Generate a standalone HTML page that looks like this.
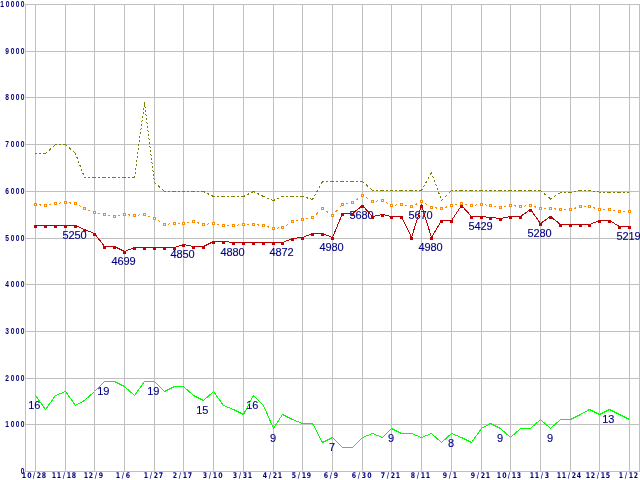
<!DOCTYPE html>
<html lang="en">
<head>
<meta charset="utf-8">
<title>Chart</title>
<style>
html,body{margin:0;padding:0;background:#fff;}
body{width:640px;height:480px;overflow:hidden;}
svg{display:block;}
.ax{font-family:"Liberation Sans",Arial,sans-serif;font-weight:bold;font-size:8.3px;fill:#000080;text-anchor:middle;}
.dt{font-family:"DejaVu Sans","Liberation Sans",sans-serif;font-size:7.8px;}
.lb{font-family:"Liberation Sans",Arial,sans-serif;font-size:11px;fill:#000080;stroke:#000080;stroke-width:0.12px;}
</style>
</head>
<body>
<svg width="640" height="480" viewBox="0 0 640 480">
<rect x="0" y="0" width="640" height="480" fill="#ffffff"/>
<g fill="#c0c0c0" shape-rendering="crispEdges">
<rect x="25" y="4" width="615" height="1"/>
<rect x="25" y="51" width="615" height="1"/>
<rect x="25" y="97" width="615" height="1"/>
<rect x="25" y="144" width="615" height="1"/>
<rect x="25" y="191" width="615" height="1"/>
<rect x="25" y="238" width="615" height="1"/>
<rect x="25" y="284" width="615" height="1"/>
<rect x="25" y="331" width="615" height="1"/>
<rect x="25" y="378" width="615" height="1"/>
<rect x="25" y="424" width="615" height="1"/>
<rect x="25" y="471" width="615" height="1"/>
<rect x="25" y="4" width="1" height="468"/>
<rect x="639" y="4" width="1" height="468"/>
<rect x="35" y="4" width="1" height="468"/>
<rect x="65" y="4" width="1" height="468"/>
<rect x="94" y="4" width="1" height="468"/>
<rect x="124" y="4" width="1" height="468"/>
<rect x="154" y="4" width="1" height="468"/>
<rect x="183" y="4" width="1" height="468"/>
<rect x="213" y="4" width="1" height="468"/>
<rect x="243" y="4" width="1" height="468"/>
<rect x="273" y="4" width="1" height="468"/>
<rect x="302" y="4" width="1" height="468"/>
<rect x="332" y="4" width="1" height="468"/>
<rect x="362" y="4" width="1" height="468"/>
<rect x="391" y="4" width="1" height="468"/>
<rect x="421" y="4" width="1" height="468"/>
<rect x="451" y="4" width="1" height="468"/>
<rect x="481" y="4" width="1" height="468"/>
<rect x="510" y="4" width="1" height="468"/>
<rect x="540" y="4" width="1" height="468"/>
<rect x="570" y="4" width="1" height="468"/>
<rect x="599" y="4" width="1" height="468"/>
<rect x="629" y="4" width="1" height="468"/>
</g>
<g class="lb">
<text x="62.5 68.5 74.5 80.5" y="238.75">5250</text>
<text x="111.5 117.5 123.5 129.5" y="264.75">4699</text>
<text x="170.5 176.5 182.5 188.5" y="257.75">4850</text>
<text x="220.5 226.5 232.5 238.5" y="255.75">4880</text>
<text x="269.5 275.5 281.5 287.5" y="255.75">4872</text>
<text x="319.5 325.5 331.5 337.5" y="250.75">4980</text>
<text x="349.5 355.5 361.5 367.5" y="218.75">5680</text>
<text x="408.5 414.5 420.5 426.5" y="218.75">5670</text>
<text x="418.5 424.5 430.5 436.5" y="250.75">4980</text>
<text x="468.5 474.5 480.5 486.5" y="229.75">5429</text>
<text x="527.5 533.5 539.5 545.5" y="236.75">5280</text>
<text x="616.5 622.5 628.5 634.5" y="239.75">5219</text>
<text x="28.2 34.2" y="408.75">16</text>
<text x="97.2 103.2" y="394.75">19</text>
<text x="147.2 153.2" y="394.75">19</text>
<text x="196.2 202.2" y="413.75">15</text>
<text x="246.2 252.2" y="408.75">16</text>
<text x="269.9" y="441.75">9</text>
<text x="328.9" y="450.75">7</text>
<text x="387.9" y="441.75">9</text>
<text x="447.9" y="446.75">8</text>
<text x="496.9" y="441.75">9</text>
<text x="546.9" y="441.75">9</text>
<text x="602.2 608.2" y="422.75">13</text>
</g>
<g fill="none" stroke="#808000" stroke-width="1" shape-rendering="crispEdges">
<path d="M35.00 153.50L45.00 153.50" stroke-dasharray="2.20 1.80" stroke-dashoffset="0.00"/>
<path d="M45.00 153.95L55.00 144.95" stroke-dasharray="2.96 2.42" stroke-dashoffset="0.00"/>
<path d="M55.00 144.50L65.00 144.50" stroke-dasharray="2.20 1.80" stroke-dashoffset="0.00"/>
<path d="M65.00 144.05L75.00 153.05" stroke-dasharray="2.96 2.42" stroke-dashoffset="0.00"/>
<path d="M75.31 153.00L84.31 177.00" stroke-dasharray="2.35 1.92" stroke-dashoffset="0.00"/>
<path d="M84.00 177.50L94.00 177.50" stroke-dasharray="2.20 1.80" stroke-dashoffset="0.00"/>
<path d="M94.00 177.50L104.00 177.50" stroke-dasharray="2.20 1.80" stroke-dashoffset="0.00"/>
<path d="M104.00 177.50L114.00 177.50" stroke-dasharray="2.20 1.80" stroke-dashoffset="0.00"/>
<path d="M114.00 177.50L124.00 177.50" stroke-dasharray="2.20 1.80" stroke-dashoffset="0.00"/>
<path d="M124.00 177.50L134.00 177.50" stroke-dasharray="2.20 1.80" stroke-dashoffset="0.00"/>
<path d="M134.43 178.00L144.43 103.00" stroke-dasharray="2.22 1.82" stroke-dashoffset="0.00"/>
<path d="M144.44 102.00L154.44 182.00" stroke-dasharray="2.22 1.81" stroke-dashoffset="0.00"/>
<path d="M154.00 182.05L164.00 191.05" stroke-dasharray="2.96 2.42" stroke-dashoffset="0.00"/>
<path d="M164.00 191.50L174.00 191.50" stroke-dasharray="2.20 1.80" stroke-dashoffset="0.00"/>
<path d="M174.00 191.50L183.00 191.50" stroke-dasharray="2.20 1.80" stroke-dashoffset="0.00"/>
<path d="M183.00 191.50L193.00 191.50" stroke-dasharray="2.20 1.80" stroke-dashoffset="0.00"/>
<path d="M193.00 191.50L203.00 191.50" stroke-dasharray="2.20 1.80" stroke-dashoffset="0.00"/>
<path d="M203.00 191.25L213.00 196.25" stroke-dasharray="2.46 2.01" stroke-dashoffset="0.00"/>
<path d="M213.00 196.50L223.00 196.50" stroke-dasharray="2.20 1.80" stroke-dashoffset="0.00"/>
<path d="M223.00 196.50L233.00 196.50" stroke-dasharray="2.20 1.80" stroke-dashoffset="0.00"/>
<path d="M233.00 196.50L243.00 196.50" stroke-dasharray="2.20 1.80" stroke-dashoffset="0.00"/>
<path d="M243.00 196.75L253.00 191.75" stroke-dasharray="2.46 2.01" stroke-dashoffset="0.00"/>
<path d="M253.00 191.25L263.00 196.25" stroke-dasharray="2.46 2.01" stroke-dashoffset="0.00"/>
<path d="M263.00 196.30L273.00 200.30" stroke-dasharray="2.37 1.94" stroke-dashoffset="0.00"/>
<path d="M273.00 200.72L282.00 196.72" stroke-dasharray="2.41 1.97" stroke-dashoffset="0.00"/>
<path d="M282.00 196.50L292.00 196.50" stroke-dasharray="2.20 1.80" stroke-dashoffset="0.00"/>
<path d="M292.00 196.50L302.00 196.50" stroke-dasharray="2.20 1.80" stroke-dashoffset="0.00"/>
<path d="M302.00 196.35L312.00 199.35" stroke-dasharray="2.30 1.88" stroke-dashoffset="0.00"/>
<path d="M312.22 200.00L322.22 182.00" stroke-dasharray="2.52 2.06" stroke-dashoffset="0.00"/>
<path d="M322.00 181.50L332.00 181.50" stroke-dasharray="2.20 1.80" stroke-dashoffset="0.00"/>
<path d="M332.00 181.50L342.00 181.50" stroke-dasharray="2.20 1.80" stroke-dashoffset="0.00"/>
<path d="M342.00 181.50L352.00 181.50" stroke-dasharray="2.20 1.80" stroke-dashoffset="0.00"/>
<path d="M352.00 181.50L362.00 181.50" stroke-dasharray="2.20 1.80" stroke-dashoffset="0.00"/>
<path d="M362.00 181.05L372.00 190.05" stroke-dasharray="2.96 2.42" stroke-dashoffset="0.00"/>
<path d="M372.00 190.50L382.00 190.50" stroke-dasharray="2.20 1.80" stroke-dashoffset="0.00"/>
<path d="M382.00 190.50L391.00 190.50" stroke-dasharray="2.20 1.80" stroke-dashoffset="0.00"/>
<path d="M391.00 190.50L401.00 190.50" stroke-dasharray="2.20 1.80" stroke-dashoffset="0.00"/>
<path d="M401.00 190.50L411.00 190.50" stroke-dasharray="2.20 1.80" stroke-dashoffset="0.00"/>
<path d="M411.00 190.50L421.00 190.50" stroke-dasharray="2.20 1.80" stroke-dashoffset="0.00"/>
<path d="M421.22 191.00L431.22 173.00" stroke-dasharray="2.52 2.06" stroke-dashoffset="0.00"/>
<path d="M431.32 172.00L441.32 200.00" stroke-dasharray="2.34 1.91" stroke-dashoffset="0.00"/>
<path d="M441.00 201.00L451.00 191.00" stroke-dasharray="3.11 2.55" stroke-dashoffset="0.00"/>
<path d="M451.00 190.50L461.00 190.50" stroke-dasharray="2.20 1.80" stroke-dashoffset="0.00"/>
<path d="M461.00 190.50L471.00 190.50" stroke-dasharray="2.20 1.80" stroke-dashoffset="0.00"/>
<path d="M471.00 190.50L481.00 190.50" stroke-dasharray="2.20 1.80" stroke-dashoffset="0.00"/>
<path d="M481.00 190.50L490.00 190.50" stroke-dasharray="2.20 1.80" stroke-dashoffset="0.00"/>
<path d="M490.00 190.50L500.00 190.50" stroke-dasharray="2.20 1.80" stroke-dashoffset="0.00"/>
<path d="M500.00 190.50L510.00 190.50" stroke-dasharray="2.20 1.80" stroke-dashoffset="0.00"/>
<path d="M510.00 190.50L520.00 190.50" stroke-dasharray="2.20 1.80" stroke-dashoffset="0.00"/>
<path d="M520.00 190.50L530.00 190.50" stroke-dasharray="2.20 1.80" stroke-dashoffset="0.00"/>
<path d="M530.00 190.50L540.00 190.50" stroke-dasharray="2.20 1.80" stroke-dashoffset="0.00"/>
<path d="M540.00 190.07L550.00 198.57" stroke-dasharray="2.89 2.36" stroke-dashoffset="0.00"/>
<path d="M550.00 199.32L560.00 192.82" stroke-dasharray="2.62 2.15" stroke-dashoffset="0.00"/>
<path d="M560.00 192.50L570.00 192.50" stroke-dasharray="2.20 1.80" stroke-dashoffset="0.00"/>
<path d="M570.00 192.60L580.00 190.60" stroke-dasharray="2.24 1.84" stroke-dashoffset="0.00"/>
<path d="M580.00 190.50L589.00 190.50" stroke-dasharray="2.20 1.80" stroke-dashoffset="0.00"/>
<path d="M589.00 190.43L599.00 191.93" stroke-dasharray="2.22 1.82" stroke-dashoffset="0.00"/>
<path d="M599.00 192.00L609.00 192.00" stroke-dasharray="2.20 1.80" stroke-dashoffset="0.00"/>
<path d="M609.00 192.00L619.00 192.00" stroke-dasharray="2.20 1.80" stroke-dashoffset="0.00"/>
<path d="M619.00 192.00L629.00 192.00" stroke-dasharray="2.20 1.80" stroke-dashoffset="0.00"/>
</g>
<g fill="none" stroke="#ff8c00" stroke-width="1" shape-rendering="crispEdges">
<path d="M35.00 204.45L45.00 205.45" stroke-dasharray="2.01 3.01" stroke-dashoffset="1.00"/>
<path d="M45.00 205.60L55.00 203.60" stroke-dasharray="2.04 3.06" stroke-dashoffset="1.02"/>
<path d="M55.00 203.55L65.00 202.55" stroke-dasharray="2.01 3.01" stroke-dashoffset="1.00"/>
<path d="M65.00 202.45L75.00 203.45" stroke-dasharray="2.01 3.01" stroke-dashoffset="1.00"/>
<path d="M75.00 203.22L84.00 208.22" stroke-dasharray="2.29 3.43" stroke-dashoffset="1.14"/>
<path d="M84.00 208.30L94.00 212.30" stroke-dasharray="2.15 3.23" stroke-dashoffset="1.08"/>
<path d="M94.00 212.40L104.00 214.40" stroke-dasharray="2.04 3.06" stroke-dashoffset="1.02"/>
<path d="M104.00 214.40L114.00 216.40" stroke-dasharray="2.04 3.06" stroke-dashoffset="1.02"/>
<path d="M114.00 216.60L124.00 214.60" stroke-dasharray="2.04 3.06" stroke-dashoffset="1.02"/>
<path d="M124.00 214.45L134.00 215.45" stroke-dasharray="2.01 3.01" stroke-dashoffset="1.00"/>
<path d="M134.00 215.55L144.00 214.55" stroke-dasharray="2.01 3.01" stroke-dashoffset="1.00"/>
<path d="M144.00 214.30L154.00 218.30" stroke-dasharray="2.15 3.23" stroke-dashoffset="1.08"/>
<path d="M154.00 218.20L164.00 224.20" stroke-dasharray="2.33 3.50" stroke-dashoffset="1.17"/>
<path d="M164.00 224.55L174.00 223.55" stroke-dasharray="2.01 3.01" stroke-dashoffset="1.00"/>
<path d="M174.00 223.50L183.00 223.50" stroke-dasharray="2.00 3.00" stroke-dashoffset="1.00"/>
<path d="M183.00 223.60L193.00 221.60" stroke-dasharray="2.04 3.06" stroke-dashoffset="1.02"/>
<path d="M193.00 221.35L203.00 224.35" stroke-dasharray="2.09 3.13" stroke-dashoffset="1.04"/>
<path d="M203.00 224.55L213.00 223.55" stroke-dasharray="2.01 3.01" stroke-dashoffset="1.00"/>
<path d="M213.00 223.40L223.00 225.40" stroke-dasharray="2.04 3.06" stroke-dashoffset="1.02"/>
<path d="M223.00 225.50L233.00 225.50" stroke-dasharray="2.00 3.00" stroke-dashoffset="1.00"/>
<path d="M233.00 225.55L243.00 224.55" stroke-dasharray="2.01 3.01" stroke-dashoffset="1.00"/>
<path d="M243.00 224.50L253.00 224.50" stroke-dasharray="2.00 3.00" stroke-dashoffset="1.00"/>
<path d="M253.00 224.45L263.00 225.45" stroke-dasharray="2.01 3.01" stroke-dashoffset="1.00"/>
<path d="M263.00 225.35L273.00 228.35" stroke-dasharray="2.09 3.13" stroke-dashoffset="1.04"/>
<path d="M273.00 228.56L282.00 227.56" stroke-dasharray="2.01 3.02" stroke-dashoffset="1.01"/>
<path d="M282.00 227.80L292.00 221.80" stroke-dasharray="2.33 3.50" stroke-dashoffset="1.17"/>
<path d="M292.00 221.60L302.00 219.60" stroke-dasharray="2.04 3.06" stroke-dashoffset="1.02"/>
<path d="M302.00 219.60L312.00 217.60" stroke-dasharray="2.04 3.06" stroke-dashoffset="1.02"/>
<path d="M312.00 217.95L322.00 208.95" stroke-dasharray="2.69 4.04" stroke-dashoffset="1.35"/>
<path d="M322.00 208.15L332.00 215.15" stroke-dasharray="2.44 3.66" stroke-dashoffset="1.22"/>
<path d="M332.05 216.00L342.05 205.00" stroke-dasharray="2.70 4.05" stroke-dashoffset="1.35"/>
<path d="M342.00 204.60L352.00 202.60" stroke-dasharray="2.04 3.06" stroke-dashoffset="1.02"/>
<path d="M352.00 202.85L362.00 195.85" stroke-dasharray="2.44 3.66" stroke-dashoffset="1.22"/>
<path d="M362.00 195.20L372.00 201.20" stroke-dasharray="2.33 3.50" stroke-dashoffset="1.17"/>
<path d="M372.00 201.55L382.00 200.55" stroke-dasharray="2.01 3.01" stroke-dashoffset="1.00"/>
<path d="M382.00 200.22L391.00 205.22" stroke-dasharray="2.29 3.43" stroke-dashoffset="1.14"/>
<path d="M391.00 205.55L401.00 204.55" stroke-dasharray="2.01 3.01" stroke-dashoffset="1.00"/>
<path d="M401.00 204.40L411.00 206.40" stroke-dasharray="2.04 3.06" stroke-dashoffset="1.02"/>
<path d="M411.00 206.75L421.00 201.75" stroke-dasharray="2.24 3.35" stroke-dashoffset="1.12"/>
<path d="M421.00 201.20L431.00 207.20" stroke-dasharray="2.33 3.50" stroke-dashoffset="1.17"/>
<path d="M431.00 207.45L441.00 208.45" stroke-dasharray="2.01 3.01" stroke-dashoffset="1.00"/>
<path d="M441.00 208.65L451.00 205.65" stroke-dasharray="2.09 3.13" stroke-dashoffset="1.04"/>
<path d="M451.00 205.60L461.00 203.60" stroke-dasharray="2.04 3.06" stroke-dashoffset="1.02"/>
<path d="M461.00 203.40L471.00 205.40" stroke-dasharray="2.04 3.06" stroke-dashoffset="1.02"/>
<path d="M471.00 205.55L481.00 204.55" stroke-dasharray="2.01 3.01" stroke-dashoffset="1.00"/>
<path d="M481.00 204.44L490.00 205.44" stroke-dasharray="2.01 3.02" stroke-dashoffset="1.01"/>
<path d="M490.00 205.40L500.00 207.40" stroke-dasharray="2.04 3.06" stroke-dashoffset="1.02"/>
<path d="M500.00 207.60L510.00 205.60" stroke-dasharray="2.04 3.06" stroke-dashoffset="1.02"/>
<path d="M510.00 205.45L520.00 206.45" stroke-dasharray="2.01 3.01" stroke-dashoffset="1.00"/>
<path d="M520.00 206.55L530.00 205.55" stroke-dasharray="2.01 3.01" stroke-dashoffset="1.00"/>
<path d="M530.00 205.35L540.00 208.35" stroke-dasharray="2.09 3.13" stroke-dashoffset="1.04"/>
<path d="M540.00 208.50L550.00 208.50" stroke-dasharray="2.00 3.00" stroke-dashoffset="1.00"/>
<path d="M550.00 208.45L560.00 209.45" stroke-dasharray="2.01 3.01" stroke-dashoffset="1.00"/>
<path d="M560.00 209.50L570.00 209.50" stroke-dasharray="2.00 3.00" stroke-dashoffset="1.00"/>
<path d="M570.00 209.65L580.00 206.65" stroke-dasharray="2.09 3.13" stroke-dashoffset="1.04"/>
<path d="M580.00 206.50L589.00 206.50" stroke-dasharray="2.00 3.00" stroke-dashoffset="1.00"/>
<path d="M589.00 206.35L599.00 209.35" stroke-dasharray="2.09 3.13" stroke-dashoffset="1.04"/>
<path d="M599.00 209.50L609.00 209.50" stroke-dasharray="2.00 3.00" stroke-dashoffset="1.00"/>
<path d="M609.00 209.40L619.00 211.40" stroke-dasharray="2.04 3.06" stroke-dashoffset="1.02"/>
<path d="M619.00 211.50L629.00 211.50" stroke-dasharray="2.00 3.00" stroke-dashoffset="1.00"/>
</g>
<g fill="#ffffff" stroke="#ff8c00" stroke-width="1" shape-rendering="crispEdges">
<rect x="34.5" y="203.5" width="2" height="2"/>
<rect x="44.5" y="204.5" width="2" height="2"/>
<rect x="54.5" y="202.5" width="2" height="2"/>
<rect x="64.5" y="201.5" width="2" height="2"/>
<rect x="74.5" y="202.5" width="2" height="2"/>
<rect x="83.5" y="207.5" width="2" height="2"/>
<rect x="93.5" y="211.5" width="2" height="2"/>
<rect x="103.5" y="213.5" width="2" height="2"/>
<rect x="113.5" y="215.5" width="2" height="2"/>
<rect x="123.5" y="213.5" width="2" height="2"/>
<rect x="133.5" y="214.5" width="2" height="2"/>
<rect x="143.5" y="213.5" width="2" height="2"/>
<rect x="153.5" y="217.5" width="2" height="2"/>
<rect x="163.5" y="223.5" width="2" height="2"/>
<rect x="173.5" y="222.5" width="2" height="2"/>
<rect x="182.5" y="222.5" width="2" height="2"/>
<rect x="192.5" y="220.5" width="2" height="2"/>
<rect x="202.5" y="223.5" width="2" height="2"/>
<rect x="212.5" y="222.5" width="2" height="2"/>
<rect x="222.5" y="224.5" width="2" height="2"/>
<rect x="232.5" y="224.5" width="2" height="2"/>
<rect x="242.5" y="223.5" width="2" height="2"/>
<rect x="252.5" y="223.5" width="2" height="2"/>
<rect x="262.5" y="224.5" width="2" height="2"/>
<rect x="272.5" y="227.5" width="2" height="2"/>
<rect x="281.5" y="226.5" width="2" height="2"/>
<rect x="291.5" y="220.5" width="2" height="2"/>
<rect x="301.5" y="218.5" width="2" height="2"/>
<rect x="311.5" y="216.5" width="2" height="2"/>
<rect x="321.5" y="207.5" width="2" height="2"/>
<rect x="331.5" y="214.5" width="2" height="2"/>
<rect x="341.5" y="203.5" width="2" height="2"/>
<rect x="351.5" y="201.5" width="2" height="2"/>
<rect x="361.5" y="194.5" width="2" height="2"/>
<rect x="371.5" y="200.5" width="2" height="2"/>
<rect x="381.5" y="199.5" width="2" height="2"/>
<rect x="390.5" y="204.5" width="2" height="2"/>
<rect x="400.5" y="203.5" width="2" height="2"/>
<rect x="410.5" y="205.5" width="2" height="2"/>
<rect x="420.5" y="200.5" width="2" height="2"/>
<rect x="430.5" y="206.5" width="2" height="2"/>
<rect x="440.5" y="207.5" width="2" height="2"/>
<rect x="450.5" y="204.5" width="2" height="2"/>
<rect x="460.5" y="202.5" width="2" height="2"/>
<rect x="470.5" y="204.5" width="2" height="2"/>
<rect x="480.5" y="203.5" width="2" height="2"/>
<rect x="489.5" y="204.5" width="2" height="2"/>
<rect x="499.5" y="206.5" width="2" height="2"/>
<rect x="509.5" y="204.5" width="2" height="2"/>
<rect x="519.5" y="205.5" width="2" height="2"/>
<rect x="529.5" y="204.5" width="2" height="2"/>
<rect x="539.5" y="207.5" width="2" height="2"/>
<rect x="549.5" y="207.5" width="2" height="2"/>
<rect x="559.5" y="208.5" width="2" height="2"/>
<rect x="569.5" y="208.5" width="2" height="2"/>
<rect x="579.5" y="205.5" width="2" height="2"/>
<rect x="588.5" y="205.5" width="2" height="2"/>
<rect x="598.5" y="208.5" width="2" height="2"/>
<rect x="608.5" y="208.5" width="2" height="2"/>
<rect x="618.5" y="210.5" width="2" height="2"/>
<rect x="628.5" y="210.5" width="2" height="2"/>
</g>
<polyline fill="none" stroke="#c00000" stroke-width="1" shape-rendering="crispEdges" points="35.5,225.50 45.5,225.50 55.5,225.50 65.5,225.50 75.5,225.50 84.5,229.50 94.5,233.50 104.5,246.50 114.5,246.50 124.5,251.50 134.5,247.50 144.5,247.50 154.5,247.50 164.5,247.50 174.5,247.50 183.5,244.50 193.5,246.50 203.5,246.50 213.5,241.50 223.5,241.50 233.5,242.50 243.5,242.50 253.5,242.50 263.5,242.50 273.5,242.50 282.5,242.50 292.5,238.50 302.5,237.50 312.5,233.50 322.5,233.50 332.5,237.50 342.5,213.50 352.5,213.50 362.5,205.50 372.5,216.50 382.5,214.50 391.5,216.50 401.5,216.50 411.5,237.50 421.5,205.50 431.5,237.50 441.5,220.50 451.5,220.50 461.5,205.50 471.5,216.50 481.5,216.50 490.5,217.50 500.5,218.50 510.5,216.50 520.5,216.50 530.5,209.50 540.5,223.50 550.5,216.50 560.5,224.50 570.5,224.50 580.5,224.50 589.5,224.50 599.5,220.50 609.5,220.50 619.5,226.50 629.5,226.50"/>
<g fill="#c00000" shape-rendering="crispEdges">
<rect x="34" y="225" width="3" height="3"/>
<rect x="44" y="225" width="3" height="3"/>
<rect x="54" y="225" width="3" height="3"/>
<rect x="64" y="225" width="3" height="3"/>
<rect x="74" y="225" width="3" height="3"/>
<rect x="83" y="229" width="3" height="3"/>
<rect x="93" y="233" width="3" height="3"/>
<rect x="103" y="246" width="3" height="3"/>
<rect x="113" y="246" width="3" height="3"/>
<rect x="123" y="251" width="3" height="3"/>
<rect x="133" y="247" width="3" height="3"/>
<rect x="143" y="247" width="3" height="3"/>
<rect x="153" y="247" width="3" height="3"/>
<rect x="163" y="247" width="3" height="3"/>
<rect x="173" y="247" width="3" height="3"/>
<rect x="182" y="244" width="3" height="3"/>
<rect x="192" y="246" width="3" height="3"/>
<rect x="202" y="246" width="3" height="3"/>
<rect x="212" y="241" width="3" height="3"/>
<rect x="222" y="241" width="3" height="3"/>
<rect x="232" y="242" width="3" height="3"/>
<rect x="242" y="242" width="3" height="3"/>
<rect x="252" y="242" width="3" height="3"/>
<rect x="262" y="242" width="3" height="3"/>
<rect x="272" y="242" width="3" height="3"/>
<rect x="281" y="242" width="3" height="3"/>
<rect x="291" y="238" width="3" height="3"/>
<rect x="301" y="237" width="3" height="3"/>
<rect x="311" y="233" width="3" height="3"/>
<rect x="321" y="233" width="3" height="3"/>
<rect x="331" y="237" width="3" height="3"/>
<rect x="341" y="213" width="3" height="3"/>
<rect x="351" y="213" width="3" height="3"/>
<rect x="361" y="205" width="3" height="3"/>
<rect x="371" y="216" width="3" height="3"/>
<rect x="381" y="214" width="3" height="3"/>
<rect x="390" y="216" width="3" height="3"/>
<rect x="400" y="216" width="3" height="3"/>
<rect x="410" y="237" width="3" height="3"/>
<rect x="420" y="205" width="3" height="3"/>
<rect x="430" y="237" width="3" height="3"/>
<rect x="440" y="220" width="3" height="3"/>
<rect x="450" y="220" width="3" height="3"/>
<rect x="460" y="205" width="3" height="3"/>
<rect x="470" y="216" width="3" height="3"/>
<rect x="480" y="216" width="3" height="3"/>
<rect x="489" y="217" width="3" height="3"/>
<rect x="499" y="218" width="3" height="3"/>
<rect x="509" y="216" width="3" height="3"/>
<rect x="519" y="216" width="3" height="3"/>
<rect x="529" y="209" width="3" height="3"/>
<rect x="539" y="223" width="3" height="3"/>
<rect x="549" y="216" width="3" height="3"/>
<rect x="559" y="224" width="3" height="3"/>
<rect x="569" y="224" width="3" height="3"/>
<rect x="579" y="224" width="3" height="3"/>
<rect x="588" y="224" width="3" height="3"/>
<rect x="598" y="220" width="3" height="3"/>
<rect x="608" y="220" width="3" height="3"/>
<rect x="618" y="226" width="3" height="3"/>
<rect x="628" y="226" width="3" height="3"/>
</g>
<polyline fill="none" stroke="#00ff00" stroke-width="1" shape-rendering="crispEdges" points="35.5,395.50 45.5,409.50 55.5,395.50 65.5,391.50 75.5,405.50 84.5,400.50 94.5,391.50 104.5,381.50 114.5,381.50 124.5,386.50 134.5,395.50 144.5,381.50 154.5,381.50 164.5,391.50 174.5,386.50 183.5,386.50 193.5,395.50 203.5,400.50 213.5,391.50 223.5,405.50 233.5,409.50 243.5,414.50 253.5,395.50 263.5,405.50 273.5,428.50 282.5,414.50 292.5,419.50 302.5,423.50 312.5,423.50 322.5,442.50 332.5,437.50 342.5,447.50 352.5,447.50 362.5,437.50 372.5,433.50 382.5,437.50 391.5,428.50 401.5,433.50 411.5,433.50 421.5,437.50 431.5,433.50 441.5,442.50 451.5,433.50 461.5,437.50 471.5,442.50 481.5,428.50 490.5,423.50 500.5,428.50 510.5,437.50 520.5,428.50 530.5,428.50 540.5,419.50 550.5,428.50 560.5,419.50 570.5,419.50 580.5,414.50 589.5,409.50 599.5,414.50 609.5,409.50 619.5,414.50 629.5,419.50"/>
<g class="ax">
<text transform="scale(0.8,1)" x="2.50 9.38 15.62 21.88 28.12" y="7">10000</text>
<text transform="scale(0.8,1)" x="8.75 15.62 21.88 28.12" y="54">9000</text>
<text transform="scale(0.8,1)" x="8.75 15.62 21.88 28.12" y="100">8000</text>
<text transform="scale(0.8,1)" x="8.75 15.62 21.88 28.12" y="147">7000</text>
<text transform="scale(0.8,1)" x="8.75 15.62 21.88 28.12" y="194">6000</text>
<text transform="scale(0.8,1)" x="8.75 15.62 21.88 28.12" y="241">5000</text>
<text transform="scale(0.8,1)" x="8.75 15.62 21.88 28.12" y="287">4000</text>
<text transform="scale(0.8,1)" x="8.75 15.62 21.88 28.12" y="334">3000</text>
<text transform="scale(0.8,1)" x="8.75 15.62 21.88 28.12" y="381">2000</text>
<text transform="scale(0.8,1)" x="8.75 15.62 21.88 28.12" y="427">1000</text>
<text transform="scale(0.8,1)" x="28.12" y="474">0</text>
</g>
<g class="ax dt">
<text transform="scale(0.8,1)" x="30.00 36.88 42.50 48.75 55.00" y="478">10/28</text>
<text transform="scale(0.8,1)" x="67.50 73.75 80.00 86.25 92.50" y="478">11/18</text>
<text transform="scale(0.8,1)" x="107.50 113.75 120.00 126.25" y="478">12/9</text>
<text transform="scale(0.8,1)" x="147.50 153.75 160.00" y="478">1/6</text>
<text transform="scale(0.8,1)" x="182.50 188.75 195.00 201.25" y="478">1/27</text>
<text transform="scale(0.8,1)" x="218.75 225.00 231.25 237.50" y="478">2/17</text>
<text transform="scale(0.8,1)" x="256.25 262.50 268.75 275.62" y="478">3/10</text>
<text transform="scale(0.8,1)" x="293.75 300.00 306.25 312.50" y="478">3/31</text>
<text transform="scale(0.8,1)" x="331.25 337.50 343.75 350.00" y="478">4/21</text>
<text transform="scale(0.8,1)" x="367.50 373.75 380.00 386.25" y="478">5/19</text>
<text transform="scale(0.8,1)" x="407.50 413.75 420.00" y="478">6/9</text>
<text transform="scale(0.8,1)" x="442.50 448.75 455.00 461.88" y="478">6/30</text>
<text transform="scale(0.8,1)" x="478.75 485.00 491.25 497.50" y="478">7/21</text>
<text transform="scale(0.8,1)" x="516.25 522.50 528.75 535.00" y="478">8/11</text>
<text transform="scale(0.8,1)" x="556.25 562.50 568.75" y="478">9/1</text>
<text transform="scale(0.8,1)" x="591.25 597.50 603.75 610.00" y="478">9/21</text>
<text transform="scale(0.8,1)" x="623.75 630.62 636.25 642.50 648.75" y="478">10/13</text>
<text transform="scale(0.8,1)" x="665.00 671.25 677.50 683.75" y="478">11/3</text>
<text transform="scale(0.8,1)" x="698.75 705.00 711.25 717.50 723.75" y="478">11/24</text>
<text transform="scale(0.8,1)" x="735.00 741.25 747.50 753.75 760.00" y="478">12/15</text>
<text transform="scale(0.8,1)" x="776.25 782.50 788.75 795.00" y="478">1/12</text>
</g>
</svg>
</body>
</html>
